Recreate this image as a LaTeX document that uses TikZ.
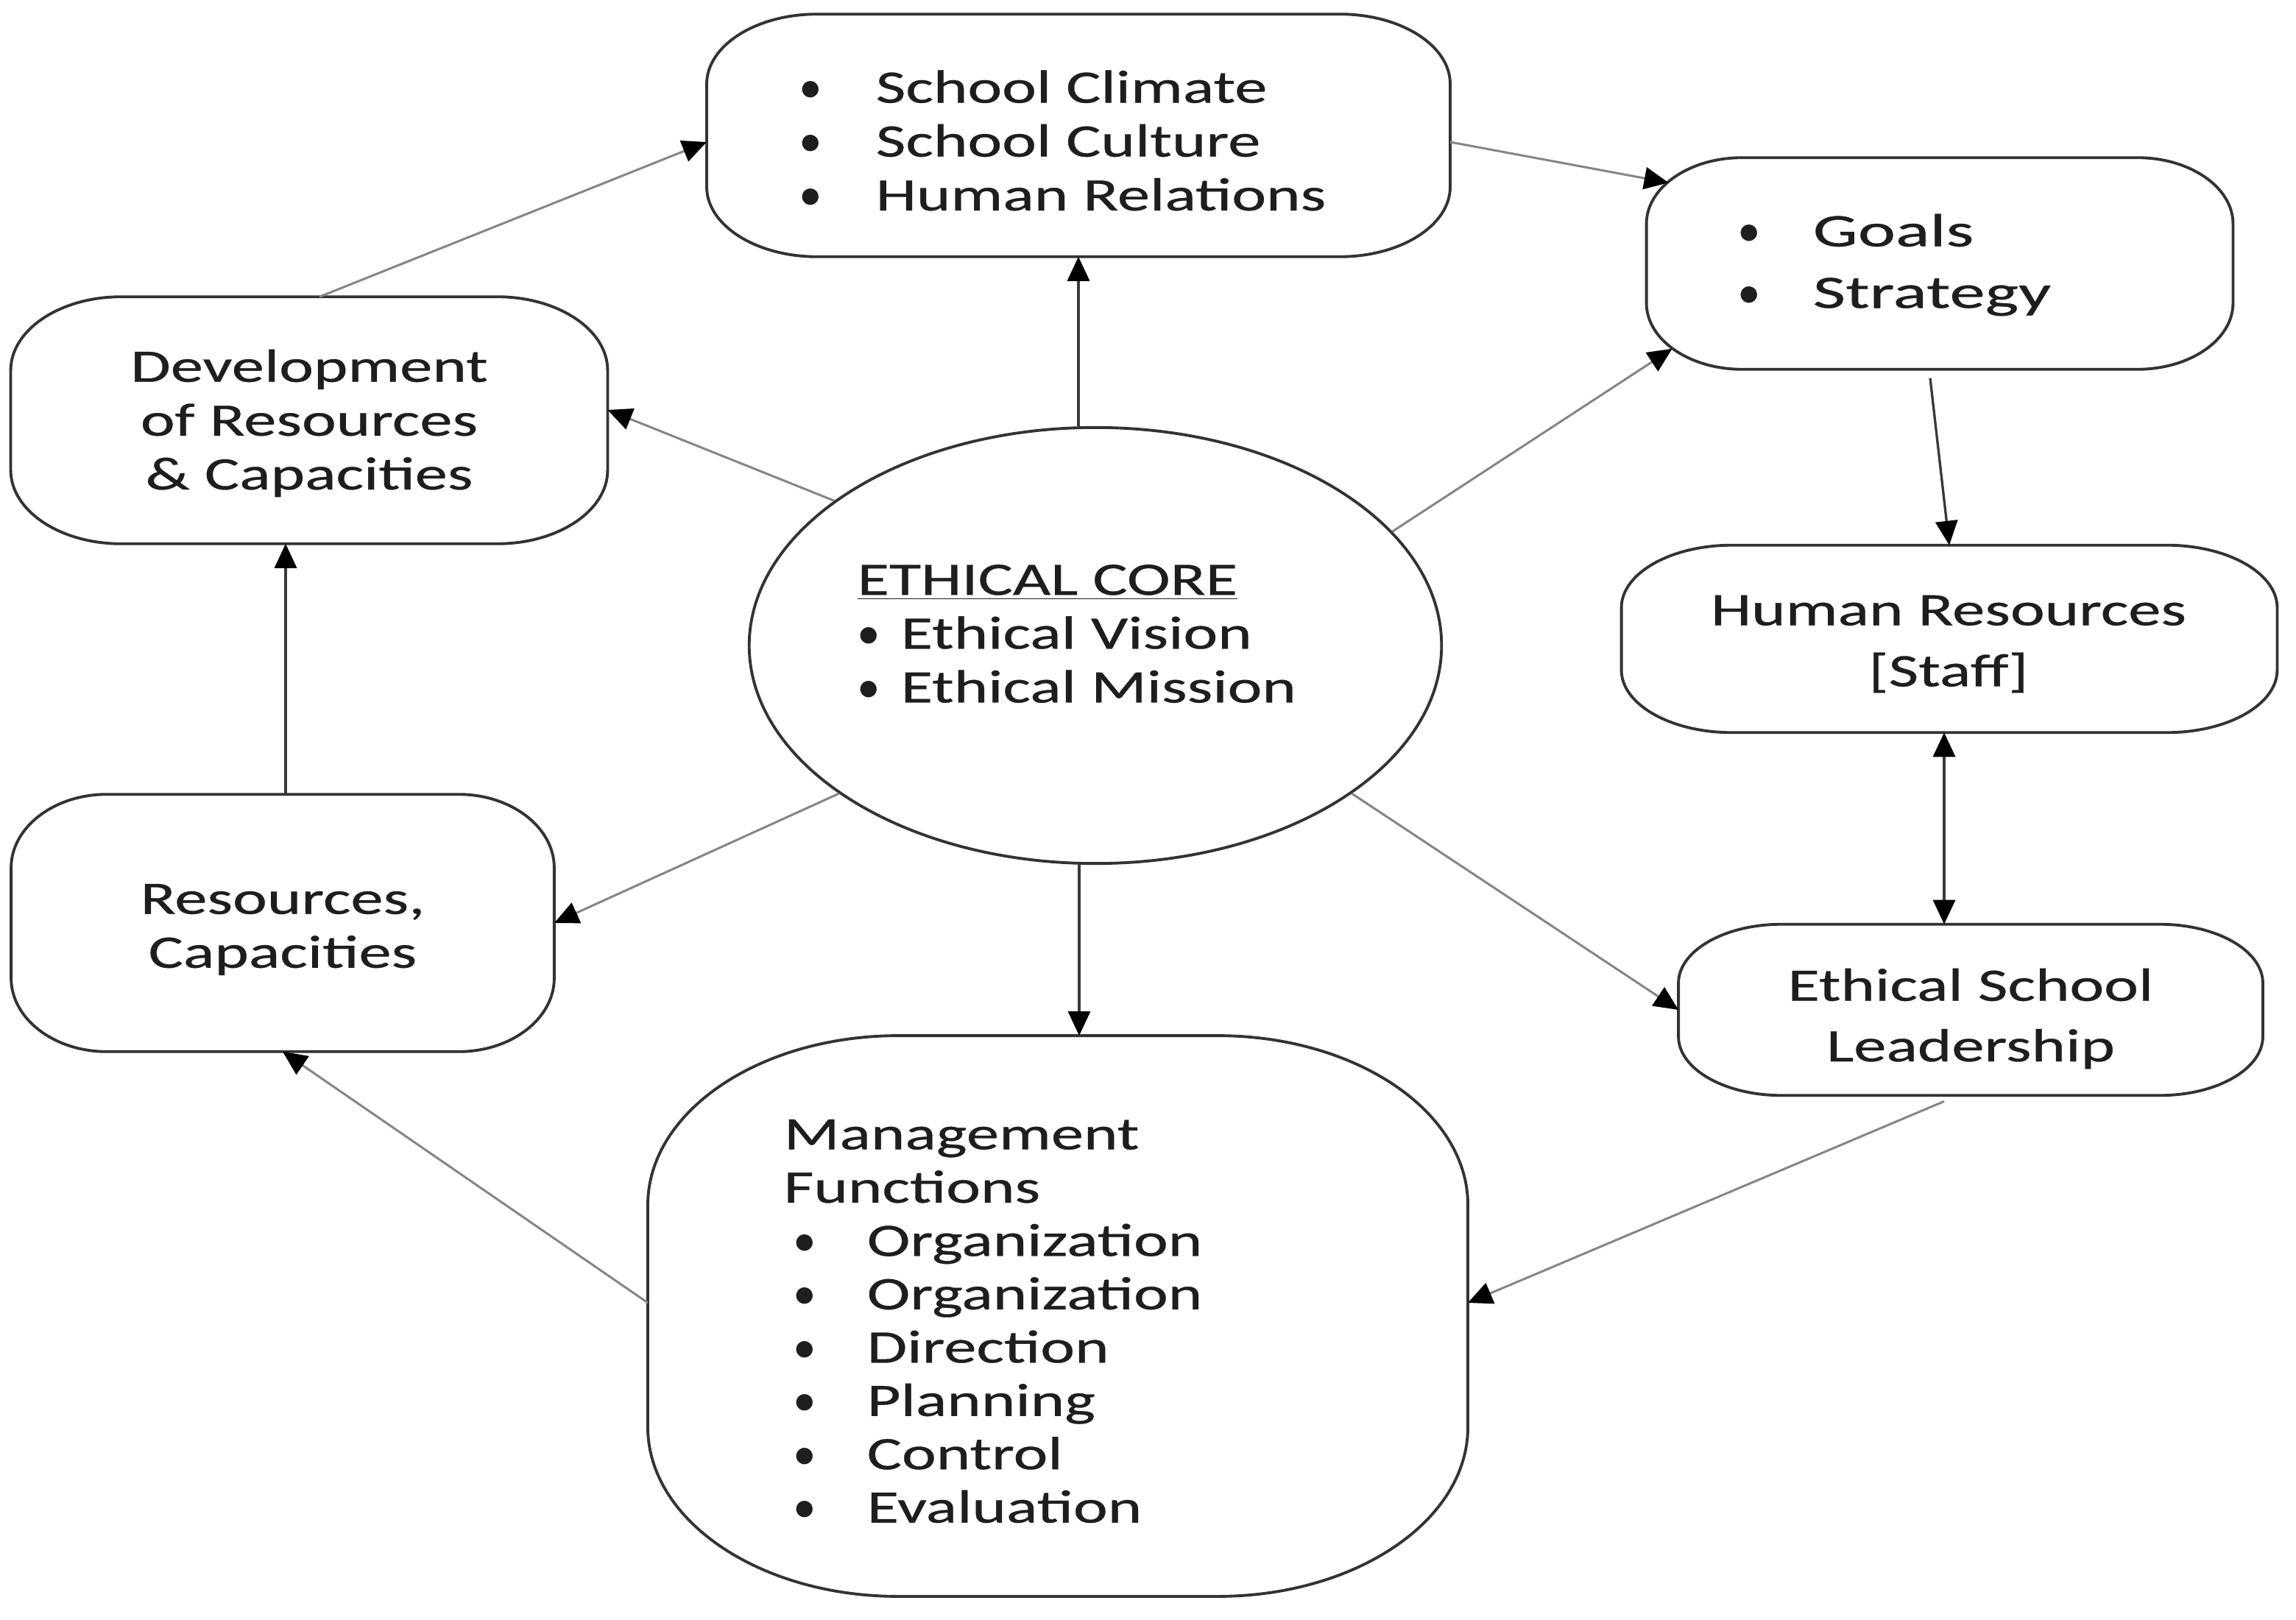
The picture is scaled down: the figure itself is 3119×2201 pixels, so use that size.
\documentclass[tikz,border=0pt]{standalone}
\usepackage{fontspec}
\setmainfont{Carlito}[FakeStretch=1.4,FakeBold=0.5]
\newfontfamily\plainfont{Carlito}
\newfontfamily\widefont{Carlito}[FakeStretch=1.53,FakeBold=0.5]
\usetikzlibrary{arrows.meta,shapes.geometric,calc}
\definecolor{ink}{HTML}{1E1E1E}
\definecolor{edgec}{HTML}{333333}
\definecolor{arrg}{HTML}{858585}
\definecolor{arrd}{HTML}{3A3A3A}
\newcommand{\bl}{{\plainfont\textbullet}}
\newcommand{\boxoutline}[3]{%
 \draw[boxline] ([xshift=#2]#1.north west) -- ([xshift=-#2]#1.north east)
 arc[start angle=90,end angle=0,x radius=#2,y radius=#3]
 -- ([yshift=#3]#1.south east)
 arc[start angle=0,end angle=-90,x radius=#2,y radius=#3]
 -- ([xshift=#2]#1.south west)
 arc[start angle=270,end angle=180,x radius=#2,y radius=#3]
 -- ([yshift=-#3]#1.north west)
 arc[start angle=180,end angle=90,x radius=#2,y radius=#3] -- cycle;}
\begin{document}
\begin{tikzpicture}[x=0.01cm,y=-0.01cm,
  font={\fontsize{18}{20.8}\selectfont},
  boxline/.style={draw=edgec,line width=1.1pt},
  frame/.style={shape=rectangle,inner sep=0pt},
  txt/.style={text=ink,inner sep=0pt,align=left},
  ctxt/.style={text=ink,inner sep=0pt,align=center},
  tipshape/.style={},
  glink/.style={draw=arrg,line width=0.85pt,-{Triangle[length=0.33cm,width=0.3cm,color=black]}},
  dlink/.style={draw=arrd,line width=0.95pt,-{Triangle[length=0.33cm,width=0.3cm,color=black]}}]
\useasboundingbox (0,0) rectangle (3119,2201);
\fill[white] (0,0) rectangle (3119,2201);

% frames
\node[frame,minimum width=10.08cm,minimum height=3.28cm] (sc) at (1465,184) {};
\node[frame,minimum width=7.95cm,minimum height=2.86cm] (goals) at (2635,358) {};
\node[frame,minimum width=8.09cm,minimum height=3.34cm] (dev) at (420,571) {};
\node[frame,minimum width=8.89cm,minimum height=2.53cm] (hr) at (2648,868) {};
\node[frame,minimum width=7.36cm,minimum height=3.48cm] (res) at (384,1254) {};
\node[frame,minimum width=7.92cm,minimum height=2.31cm] (esl) at (2677,1372) {};
\node[frame,minimum width=11.12cm,minimum height=7.6cm] (mgmt) at (1437,1788) {};
\node[ellipse,draw=edgec,line width=1.1pt,inner sep=0pt,minimum width=9.4cm,minimum height=5.92cm] (core) at (1488,877) {};

\boxoutline{sc}{1.5cm}{0.95cm}
\boxoutline{goals}{1.3cm}{0.9cm}
\boxoutline{dev}{1.5cm}{1.0cm}
\boxoutline{hr}{1.5cm}{0.85cm}
\boxoutline{res}{1.3cm}{1.0cm}
\boxoutline{esl}{1.4cm}{0.8cm}
\boxoutline{mgmt}{3.4cm}{2.3cm}

% texts
\node[txt,anchor=west] (sct) at (1085,191) {\makebox[1.04cm][l]{\bl}School Climate\\\makebox[1.04cm][l]{\bl}School Culture\\\makebox[1.04cm][l]{\bl}Human Relations};
\node[txt,anchor=west,font={\fontsize{18}{23.8}\selectfont}] (goalst) at (2360,360) {\makebox[1.02cm][l]{\bl}{\widefont Goals}\\\makebox[1.02cm][l]{\bl}{\widefont Strategy}};
\node[ctxt] (devt) at (420,575) {Development\\of Resources\\\& Capacities};
\node[ctxt] (rest) at (384,1263) {Resources,\\Capacities};
\node[ctxt,font={\fontsize{18}{23.6}\selectfont}] (hrt) at (2647,875) {Human Resources\\{[}Staff{]}};
\node[ctxt,font={\fontsize{18}{23.4}\selectfont}] (eslt) at (2677,1384) {Ethical School\\Leadership};
\node[txt,anchor=west] (coret) at (1164,861) {\underline{ETHICAL CORE}\\\makebox[0.59cm][l]{\bl}Ethical Vision\\\makebox[0.59cm][l]{\bl}Ethical Mission};
\node[txt,anchor=west,font={\fontsize{18}{20.6}\selectfont}] (mgmtt) at (1064,1795) {Management\\Functions\\
\makebox[1.13cm][l]{\hspace{0.13cm}\bl}Organization\\
\makebox[1.13cm][l]{\hspace{0.13cm}\bl}Organization\\
\makebox[1.13cm][l]{\hspace{0.13cm}\bl}Direction\\
\makebox[1.13cm][l]{\hspace{0.13cm}\bl}Planning\\
\makebox[1.13cm][l]{\hspace{0.13cm}\bl}Control\\
\makebox[1.13cm][l]{\hspace{0.13cm}\bl}Evaluation};

% connectors
\draw[glink] ([xshift=0.14cm]dev.north) -- ([yshift=-0.09cm]sc.west);
\draw[glink] (core.151) -- ([yshift=0.14cm]dev.east);
\draw[dlink] (sc.south |- core.north) -- (sc.south);
\draw[glink] ([yshift=-0.09cm]sc.east) -- ([xshift=0.3cm,yshift=-0.34cm]goals.north west);
\draw[glink] (core.21) -- ([xshift=0.35cm,yshift=0.28cm]goals.south west);
\draw[dlink] ([xshift=-0.13cm,yshift=-0.12cm]goals.south) -- (hr.north);
\draw[dlink,{Triangle[length=0.33cm,width=0.3cm,color=black]}-{Triangle[length=0.33cm,width=0.3cm,color=black]}] ($(hr.south)+(-7,0)$) -- ($(hr.south |- esl.north)+(-7,0)$);
\draw[glink] (core.330) -- (esl.west);
\draw[glink] ([xshift=-0.36cm,yshift=-0.08cm]esl.south) -- ([yshift=0.18cm]mgmt.east);
\draw[dlink] ($(mgmt.north |- core.south)+(29,0)$) -- ($(mgmt.north)+(29,0)$);
\draw[glink] (core.210) -- (res.east);
\draw[glink] ([yshift=0.18cm]mgmt.west) -- (res.south);
\draw[dlink] ($(res.north)+(4,0)$) -- ($(res.north |- dev.south)+(4,0)$);
\end{tikzpicture}
\end{document}
